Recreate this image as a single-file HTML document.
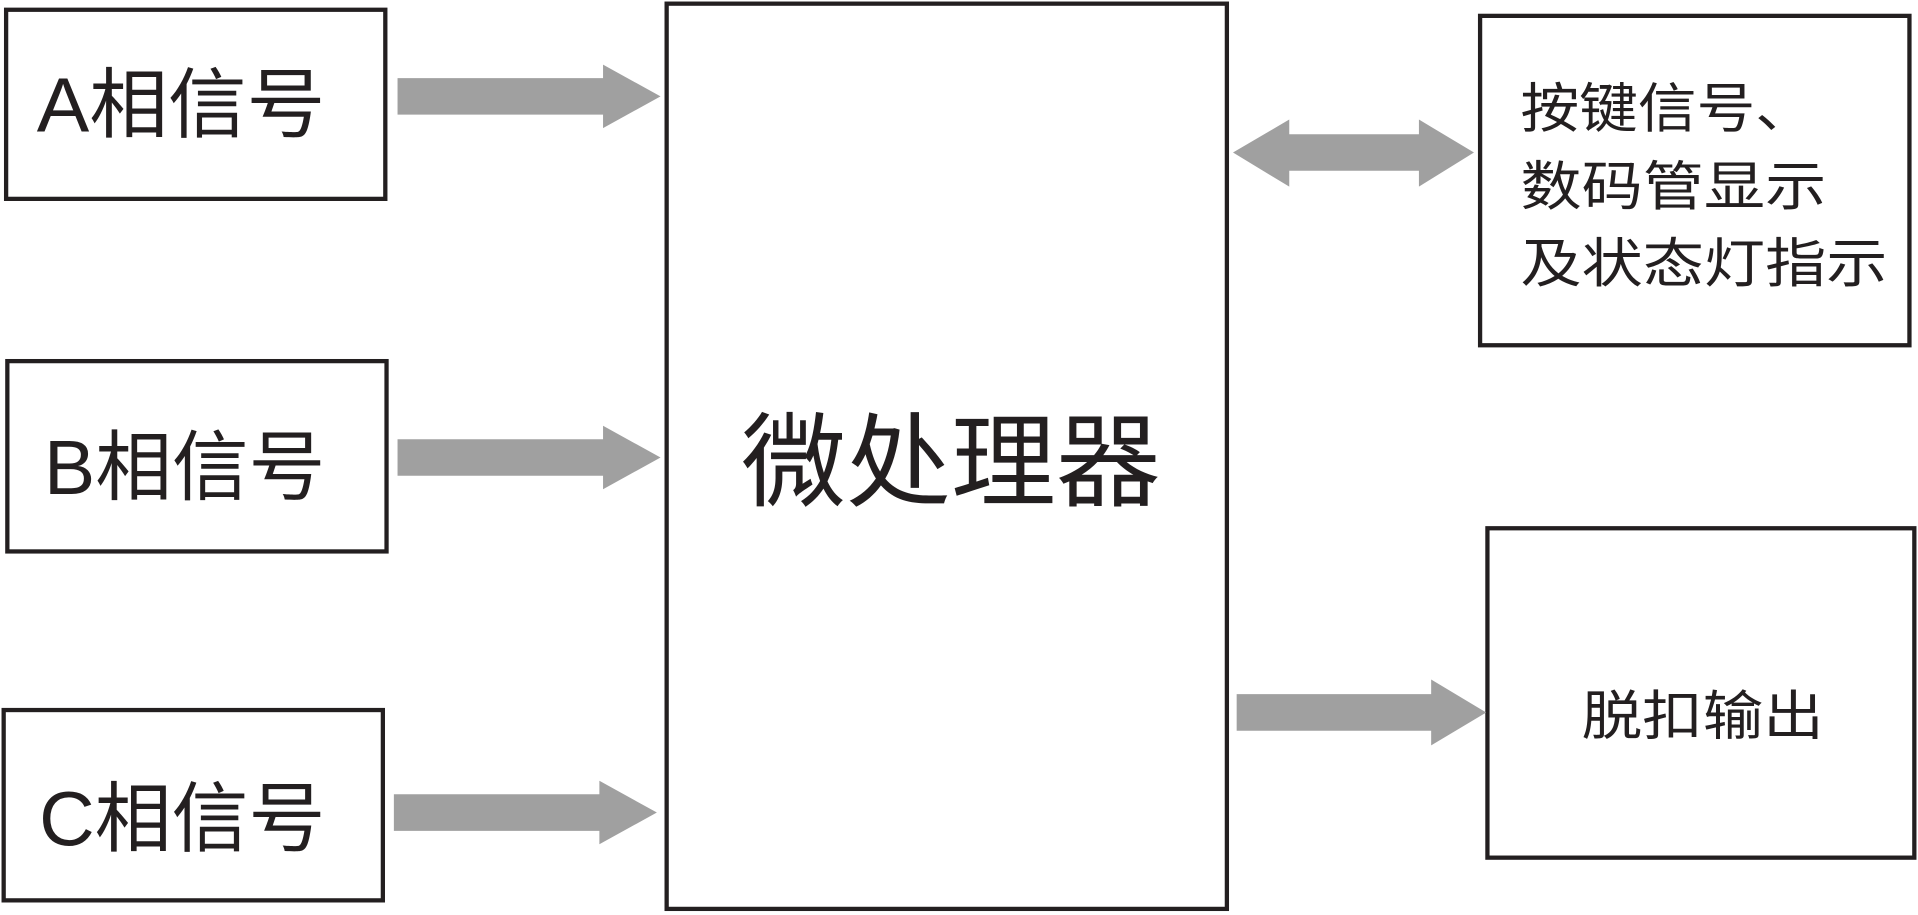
<!DOCTYPE html>
<html><head><meta charset="utf-8"><style>
html,body{margin:0;padding:0;background:#fff;}
svg{display:block;}
text{font-family:"Liberation Sans","Noto Sans CJK SC",sans-serif;fill:#231f20;}
</style></head><body>
<svg width="1918" height="915" viewBox="0 0 1568 750" preserveAspectRatio="none" xmlns="http://www.w3.org/2000/svg">
<g fill="none" stroke="#231f20" stroke-width="3.5">
<rect x="5" y="8" width="310" height="155"/>
<rect x="6" y="296" width="310" height="156"/>
<rect x="3" y="582" width="310" height="156"/>
<rect x="545" y="3" width="458" height="742"/>
<rect x="1210" y="13" width="351" height="270"/>
<rect x="1216" y="433" width="349" height="270"/>
</g>
<g fill="#a0a0a0">
<polygon points="325,64 493,64 493,53 540,79 493,105 493,94 325,94"/>
<polygon points="325,360 493,360 493,349 540,375 493,401 493,390 325,390"/>
<polygon points="322,651 490,651 490,640 537,666 490,692 490,681 322,681"/>
<polygon points="1008,125 1054,98 1054,110 1160,110 1160,98 1205,125 1160,153 1160,140 1054,140 1054,153"/>
<polygon points="1011,569 1170,569 1170,557 1215,584 1170,611 1170,599 1011,599"/>
</g>
<text x="30" y="108" font-size="63" textLength="236" lengthAdjust="spacingAndGlyphs">A相信号</text>
<text x="36" y="405" font-size="63" textLength="230" lengthAdjust="spacingAndGlyphs">B相信号</text>
<text x="32" y="693" font-size="63" textLength="234" lengthAdjust="spacingAndGlyphs">C相信号</text>
<text x="606" y="408" font-size="84" textLength="343" lengthAdjust="spacingAndGlyphs">微处理器</text>
<text x="1243" y="104" font-size="44" textLength="240" lengthAdjust="spacingAndGlyphs">按键信号、</text>
<text x="1243" y="168" font-size="44" textLength="250" lengthAdjust="spacingAndGlyphs">数码管显示</text>
<text x="1243" y="231" font-size="44" textLength="300" lengthAdjust="spacingAndGlyphs">及状态灯指示</text>
<text x="1293" y="602" font-size="44" textLength="198" lengthAdjust="spacingAndGlyphs">脱扣输出</text>
</svg>
</body></html>
